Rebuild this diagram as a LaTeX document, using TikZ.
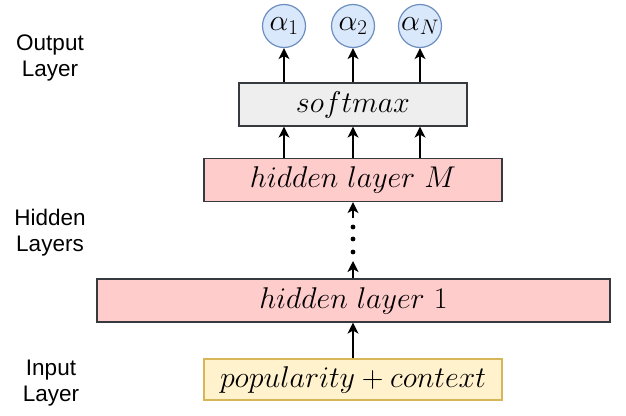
\documentclass[tikz,border=0pt]{standalone}
\usepackage{fix-cm}
\usepackage{fontspec}
\newfontfamily\labelfont{Liberation Sans}
\usetikzlibrary{arrows.meta}

\definecolor{outfill}{HTML}{DAE8FC}
\definecolor{outdraw}{HTML}{6C8EBF}
\definecolor{smfill}{HTML}{EEEEEE}
\definecolor{boxdraw}{HTML}{36393D}
\definecolor{hidfill}{HTML}{FFCCCC}
\definecolor{infill}{HTML}{FFF2CC}
\definecolor{indraw}{HTML}{D6B656}

\begin{document}
\begin{tikzpicture}[
    x=1pt, y=-1pt,
    layer/.style={rectangle, draw=boxdraw, line width=1.2pt, inner sep=0pt, minimum height=43pt, font=\fontsize{30}{35}\selectfont},
    output/.style={circle, draw=outdraw, fill=outfill, line width=1.2pt, minimum size=43pt, inner sep=0pt, font=\fontsize{30}{35}\selectfont},
    tag/.style={align=center, font=\labelfont\fontsize{22.5}{26}\selectfont},
    edge/.style={-{Stealth[length=11pt, width=11pt, inset=3pt]}, line width=1.5pt}
]
    \useasboundingbox (0,0) rectangle (626,415);

    % Output neurons
    \node[output] (a1) at (284,26) {$\alpha_1$};
    \node[output] (a2) at (353,26) {$\alpha_2$};
    \node[output] (aN) at (420,26) {$\alpha_N$};

    % Layers
    \node[layer, fill=smfill, minimum width=228pt] (sm) at (353,104.5) {$softmax$};
    \node[layer, fill=hidfill, minimum width=298pt] (hM) at (353,180) {$hidden\ layer\ M$};
    \node[layer, fill=hidfill, minimum width=513pt] (h1) at (353.5,300.5) {$hidden\ layer\ 1$};
    \node[layer, draw=indraw, fill=infill, minimum width=298pt, minimum height=41pt] (in) at (353,379.5) {$popularity+context$};

    % Layer names
    \node[tag] (outtag) at (50,58) {Output\\Layer};
    \node[tag] (hidtag) at (50,233) {Hidden\\Layers};
    \node[tag] (intag) at (51,383) {Input\\Layer};

    % Edges
    \draw[edge] (sm.north -| a1) -- (a1);
    \draw[edge] (sm.north -| a2) -- (a2);
    \draw[edge] (sm.north -| aN) -- (aN);

    \draw[edge] (hM.north -| a1) -- (sm.south -| a1);
    \draw[edge] (hM.north -| a2) -- (sm.south -| a2);
    \draw[edge] (hM.north -| aN) -- (sm.south -| aN);

    % Skipped hidden layers
    \coordinate (d1) at (353,261);
    \coordinate (d2) at (353,218);
    \draw[edge] (h1.north -| d1) -- (d1);
    \foreach \y in {227,239,252}
        \fill (353,\y) circle (2.4pt);
    \draw[edge] (d2) -- (hM.south -| d2);

    \draw[edge] (in) -- (h1.south -| in);
\end{tikzpicture}
\end{document}
